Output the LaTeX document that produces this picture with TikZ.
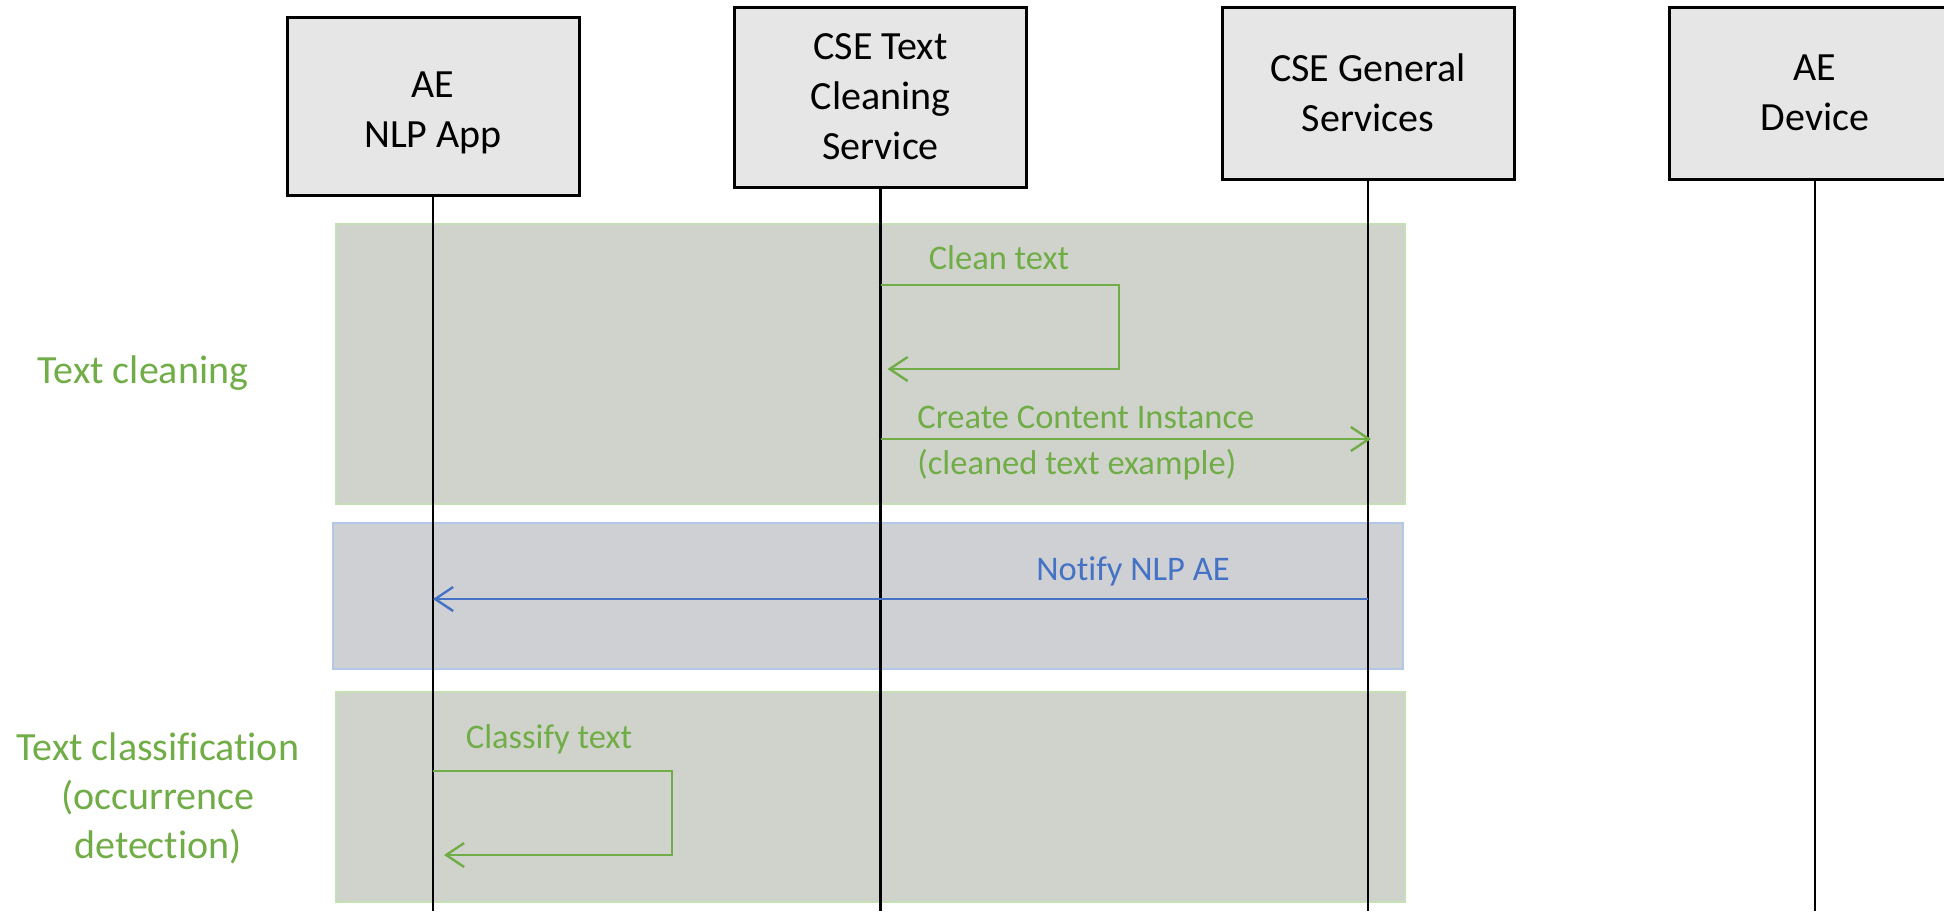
\documentclass[tikz,border=0pt]{standalone}
\usepackage{fontspec}
\setmainfont{Carlito}[Ligatures=NoCommon]
\usetikzlibrary{arrows.meta}
\definecolor{boxgray}{HTML}{E6E6E6}
\definecolor{msggreen}{HTML}{70AD47}
\definecolor{msgblue}{HTML}{4472C4}
\definecolor{gbandfill}{HTML}{D0D3CC}
\definecolor{gbandline}{HTML}{C5E0B4}
\definecolor{bbandfill}{HTML}{CED0D4}
\definecolor{bbandline}{HTML}{B4C7E7}
\begin{document}
\begin{tikzpicture}[x=0.5pt, y=-0.5pt,
  lane/.style={draw=black, line width=1.5pt, fill=boxgray, minimum width=146pt,
    align=center, inner sep=0pt, font=\fontsize{20}{25}\selectfont},
  life/.style={line width=1.3pt},
  gmsg/.style={draw=msggreen, line width=1.2pt, -{Straight Barb[length=9pt,width=12pt]}},
  bmsg/.style={draw=msgblue, line width=1.2pt, -{Straight Barb[length=9pt,width=12pt]}},
  glabel/.style={text=msggreen, inner sep=0pt, font=\fontsize{17.25}{21}\selectfont},
  blabel/.style={text=msgblue, inner sep=0pt, font=\fontsize{17.25}{21}\selectfont},
  side/.style={text=msggreen, inner sep=0pt, align=center, font=\fontsize{20}{24.5}\selectfont},
  gband/.style={draw=gbandline, line width=1pt, fill=gbandfill},
  bband/.style={draw=bbandline, line width=1pt, fill=bbandfill}]
\useasboundingbox (0,0) rectangle (1944,911);
% phases
\draw[gband] (336,224) rectangle (1405,504);
\draw[bband] (333,523) rectangle (1403,669);
\draw[gband] (336,692) rectangle (1405,902);
% participants
\node[lane, minimum height=89pt] (ae0) at (433,106) {\rule{0pt}{19.9pt}AE\\NLP App};
\node[lane, minimum height=90pt] (cse0) at (880.5,97) {CSE Text\\Cleaning\\Service};
\node[lane, minimum height=86pt] (cse1) at (1368,93) {CSE General\\Services};
\node[lane, minimum height=86pt] (ae1) at (1815,93) {AE\\Device};
\coordinate (bot) at (0,911);
\foreach \n in {ae0,cse0,cse1,ae1}
  \draw[life] (\n.south) -- (\n.south |- bot);
% message rows
\coordinate (r1) at (0,285);
\coordinate (r2) at (0,369);
\coordinate (r3) at (0,439);
\coordinate (r4) at (0,599);
\coordinate (r5) at (0,771);
\coordinate (r6) at (0,855);
\coordinate (loop0) at (1119,369);
\coordinate (loop1) at (672,855);
\draw[gmsg] (cse0.south |- r1) -| (loop0) -- ([xshift=3.5pt]cse0.south |- r2);
\draw[gmsg, shorten >=-1.5pt] (cse0.south |- r3) -- (cse1.south |- r3);
\draw[bmsg] (cse1.south |- r4) -- (ae0.south |- r4);
\draw[gmsg] (ae0.south |- r5) -| (loop1) -- ([xshift=5.5pt]ae0.south |- r6);
% labels
\node[glabel, anchor=base] (lbl0) at (999,269) {Clean text};
\node[glabel, anchor=base west] (lbl1) at (917,428) {Create Content Instance};
\node[glabel, anchor=base west] (lbl2) at (917,474) {(cleaned text example)};
\node[blabel, anchor=base] (lbl3) at (1133,580) {Notify NLP AE};
\node[glabel, anchor=base] (lbl4) at (549,748) {Classify text};
\node[side, anchor=base] (ph0) at (143,383) {Text cleaning};
\node[side, anchor=base] (ph1) at (158,858) {Text classification\\(occurrence\\detection)};
\end{tikzpicture}
\end{document}
